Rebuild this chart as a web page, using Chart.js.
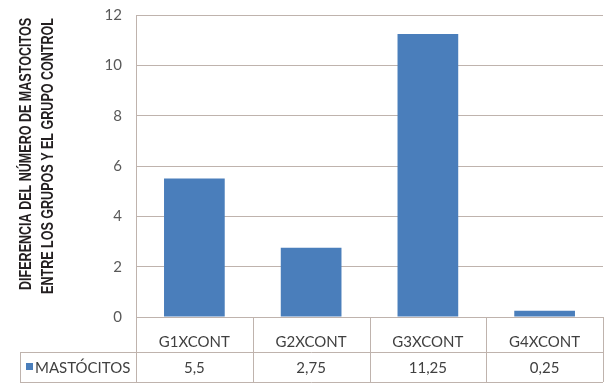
<!DOCTYPE html>
<html>
<head>
<meta charset="utf-8">
<script src="https://cdn.jsdelivr.net/npm/chart.js@4/dist/chart.umd.min.js"></script>
<style>
  html, body { margin: 0; padding: 0; background: #fff; }
  canvas { display: block; }
</style>
</head>
<body>
<canvas id="chart" width="616" height="389"></canvas>
<script>
const categories = ['G1XCONT', 'G2XCONT', 'G3XCONT', 'G4XCONT'];
const mastocitos = [5.5, 2.75, 11.25, 0.25];
const seriesName = 'MASTÓCITOS';
const yTitle = ['DIFERENCIA DEL NÚMERO DE MASTOCITOS', 'ENTRE LOS GRUPOS Y EL GRUPO CONTROL'];
const yMin = 0, yMax = 12, yStep = 2;

const barColor = '#4a7ebb';
const lineColor = '#bfb3ad';
const textColor = '#404040';
const labelFont = 'Lato, "Open Sans", sans-serif';

// título del eje y en letra estrecha: se comprime a lo ancho
const condensedTitle = {
    id: 'condensedTitle',
    afterDraw(chart) {
        const ctx = chart.ctx;
        const area = chart.chartArea;
        ctx.save();
        ctx.font = 'bold 16px "Liberation Sans", Arial, sans-serif';
        ctx.fillStyle = '#231f20';
        ctx.textAlign = 'right';
        ctx.textBaseline = 'middle';
        const squeeze = 272 / ctx.measureText(yTitle[0]).width;
        yTitle.forEach((line, i) => {
            ctx.save();
            ctx.translate(27 + i * 22, area.top + 3);
            ctx.rotate(-Math.PI / 2);
            ctx.scale(squeeze, 1);
            ctx.fillText(line, 0, 0);
            ctx.restore();
        });
        ctx.restore();
    }
};

// tabla de datos bajo el eje x (fila de leyenda + valores)
const dataTable = {
    id: 'dataTable',
    afterDraw(chart) {
        const ctx = chart.ctx;
        const x = chart.scales.x;
        const area = chart.chartArea;
        const rowTop = area.bottom + 35;
        const rowBottom = rowTop + 30;
        const legendLeft = 20;
        const half = (x.getPixelForValue(1) - x.getPixelForValue(0)) / 2;
        const right = x.getPixelForValue(categories.length - 1) + half;

        ctx.save();
        ctx.strokeStyle = lineColor;
        ctx.lineWidth = 1;
        ctx.beginPath();
        // eje vertical prolongado hasta el pie de la tabla
        ctx.moveTo(area.left + 0.5, area.bottom);
        ctx.lineTo(area.left + 0.5, rowBottom);
        // separadores de columnas
        categories.forEach((c, i) => {
            const xr = Math.round(x.getPixelForValue(i) + half) + 0.5;
            ctx.moveTo(xr, area.bottom);
            ctx.lineTo(xr, rowBottom);
        });
        // filas
        ctx.moveTo(legendLeft, rowTop + 0.5);
        ctx.lineTo(right, rowTop + 0.5);
        ctx.moveTo(legendLeft, rowBottom + 0.5);
        ctx.lineTo(right, rowBottom + 0.5);
        ctx.moveTo(legendLeft + 0.5, rowTop);
        ctx.lineTo(legendLeft + 0.5, rowBottom);
        ctx.stroke();

        const midY = (rowTop + rowBottom) / 2;
        ctx.fillStyle = barColor;
        ctx.fillRect(legendLeft + 6, midY - 4, 7, 7);
        ctx.fillStyle = textColor;
        ctx.font = '15px ' + labelFont;
        ctx.textBaseline = 'middle';
        ctx.textAlign = 'left';
        ctx.fillText(seriesName, legendLeft + 15, midY + 1);
        ctx.textAlign = 'center';
        mastocitos.forEach((v, i) => {
            ctx.fillText(String(v).replace('.', ','), x.getPixelForValue(i), midY + 1);
        });
        ctx.restore();
    }
};

new Chart(document.getElementById('chart'), {
    type: 'bar',
    data: {
        labels: categories,
        datasets: [{
            label: seriesName,
            data: mastocitos,
            backgroundColor: barColor,
            categoryPercentage: 1,
            barPercentage: 0.52
        }]
    },
    options: {
        responsive: false,
        animation: false,
        layout: { padding: { top: 15, right: 13, bottom: 0, left: 0 } },
        plugins: {
            legend: { display: false },
            tooltip: { enabled: false }
        },
        scales: {
            x: {
                grid: { display: false },
                border: { color: lineColor },
                ticks: {
                    color: textColor,
                    font: { family: labelFont, size: 15 },
                    padding: 8
                },
                afterFit: s => { s.height = 72; }
            },
            y: {
                min: yMin,
                max: yMax,
                grid: { color: lineColor, drawTicks: false },
                border: { color: lineColor },
                ticks: {
                    stepSize: yStep,
                    color: '#595959',
                    font: { family: labelFont, size: 15 },
                    padding: 14
                },
                afterFit: s => {
                    s.width = 136;
                    s.paddingTop = 0;
                    s.paddingBottom = 0;
                }
            }
        }
    },
    plugins: [dataTable, condensedTitle]
});
</script>
</body>
</html>
